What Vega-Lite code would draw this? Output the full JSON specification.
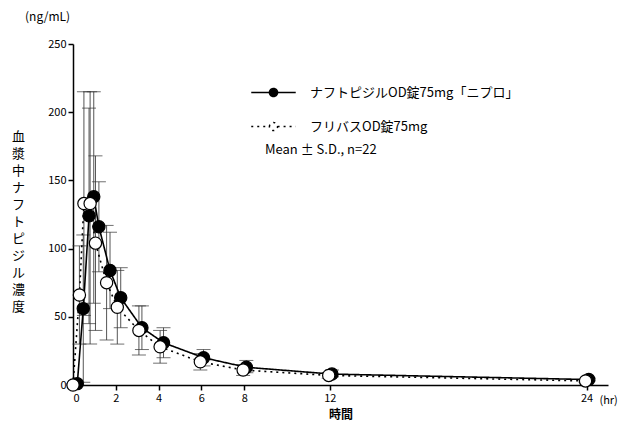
{
  "$schema": "https://vega.github.io/schema/vega-lite/v6.json",
  "width": 535,
  "height": 341,
  "autosize": {"type": "none"},
  "padding": {"left": 73, "top": 44, "right": 15, "bottom": 50},
  "title": {"text": "(ng/mL)", "anchor": "start", "frame": "group", "offset": 14, "dx": -48, "fontSize": 12, "fontWeight": "normal", "font": "Noto Sans CJK JP"},
  "datasets": {
    "pk": [
      {"s": "ナフトピジルOD錠75mg「ニプロ」", "t": 0.2, "v": 1, "lo": 0, "hi": 2},
      {"s": "ナフトピジルOD錠75mg「ニプロ」", "t": 0.48, "v": 56, "lo": 2, "hi": 110},
      {"s": "ナフトピジルOD錠75mg「ニプロ」", "t": 0.75, "v": 124, "lo": 45, "hi": 203},
      {"s": "ナフトピジルOD錠75mg「ニプロ」", "t": 0.97, "v": 138, "lo": 60, "hi": 215},
      {"s": "ナフトピジルOD錠75mg「ニプロ」", "t": 1.21, "v": 116, "lo": 83, "hi": 149},
      {"s": "ナフトピジルOD錠75mg「ニプロ」", "t": 1.73, "v": 84, "lo": 56, "hi": 112},
      {"s": "ナフトピジルOD錠75mg「ニプロ」", "t": 2.23, "v": 64, "lo": 42, "hi": 86},
      {"s": "ナフトピジルOD錠75mg「ニプロ」", "t": 3.22, "v": 42, "lo": 26, "hi": 58},
      {"s": "ナフトピジルOD錠75mg「ニプロ」", "t": 4.23, "v": 31, "lo": 20, "hi": 42},
      {"s": "ナフトピジルOD錠75mg「ニプロ」", "t": 6.1, "v": 20, "lo": 14, "hi": 26},
      {"s": "ナフトピジルOD錠75mg「ニプロ」", "t": 8.1, "v": 13, "lo": 9, "hi": 18},
      {"s": "ナフトピジルOD錠75mg「ニプロ」", "t": 12.1, "v": 8, "lo": 6, "hi": 11},
      {"s": "ナフトピジルOD錠75mg「ニプロ」", "t": 24.1, "v": 4, "lo": 3, "hi": 5},
      {"s": "フリバスOD錠75mg", "t": 0, "v": 0, "lo": 0, "hi": 1},
      {"s": "フリバスOD錠75mg", "t": 0.3, "v": 66, "lo": 30, "hi": 102},
      {"s": "フリバスOD錠75mg", "t": 0.51, "v": 133, "lo": 51, "hi": 215},
      {"s": "フリバスOD錠75mg", "t": 0.8, "v": 133, "lo": 30, "hi": 215},
      {"s": "フリバスOD錠75mg", "t": 1.05, "v": 104, "lo": 40, "hi": 168},
      {"s": "フリバスOD錠75mg", "t": 1.57, "v": 75, "lo": 33, "hi": 117},
      {"s": "フリバスOD錠75mg", "t": 2.07, "v": 57, "lo": 30, "hi": 84},
      {"s": "フリバスOD錠75mg", "t": 3.08, "v": 40, "lo": 22, "hi": 58},
      {"s": "フリバスOD錠75mg", "t": 4.07, "v": 28, "lo": 16, "hi": 40},
      {"s": "フリバスOD錠75mg", "t": 5.95, "v": 17, "lo": 11, "hi": 23},
      {"s": "フリバスOD錠75mg", "t": 7.95, "v": 11, "lo": 7, "hi": 15},
      {"s": "フリバスOD錠75mg", "t": 11.95, "v": 7, "lo": 5, "hi": 9},
      {"s": "フリバスOD錠75mg", "t": 23.95, "v": 3, "lo": 2, "hi": 4}
    ],
    "unit": [{"t": 24.6, "v": -12, "label": "(hr)"}]
  },
  "encoding": {
    "x": {"field": "t", "type": "quantitative", "scale": {"domain": [0, 25], "nice": false},
      "axis": {"values": [0, 2, 4, 6, 8, 12, 24], "title": "時間", "grid": false, "titleFontWeight": "bold", "titleFontSize": 12, "labelFontSize": 11, "titlePadding": 6}},
    "y": {"field": "v", "type": "quantitative", "scale": {"domain": [0, 250], "nice": false},
      "axis": {"values": [0, 50, 100, 150, 200, 250], "grid": false, "labelFontSize": 11,
        "title": ["血", "漿", "中", "ナ", "フ", "ト", "ピ", "ジ", "ル", "濃", "度"], "titleAngle": 0, "titleAlign": "center", "titleBaseline": "middle", "titleY": 92, "titleX": -55, "titleFontSize": 13, "titleFontWeight": "normal", "titleLineHeight": 17}}
  },
  "layer": [
    {
      "data": {"name": "pk"},
      "mark": {"type": "rule", "color": "#555", "strokeWidth": 1},
      "encoding": {"y": {"field": "lo", "type": "quantitative"}, "y2": {"field": "hi"}, "detail": {"field": "s"}}
    },
    {
      "data": {"name": "pk"},
      "mark": {"type": "tick", "color": "#333", "orient": "horizontal", "size": 14, "thickness": 1},
      "encoding": {"y": {"field": "lo", "type": "quantitative"}}
    },
    {
      "data": {"name": "pk"},
      "mark": {"type": "tick", "color": "#333", "orient": "horizontal", "size": 14, "thickness": 1},
      "encoding": {"y": {"field": "hi", "type": "quantitative"}}
    },
    {
      "data": {"name": "pk"},
      "mark": {"type": "line", "color": "black", "strokeWidth": 1.6},
      "encoding": {
        "strokeDash": {"field": "s", "type": "nominal", "scale": {"domain": ["ナフトピジルOD錠75mg「ニプロ」", "フリバスOD錠75mg"], "range": [[1, 0], [2, 4]]},
          "legend": {"title": "Mean ± S.D., n=22"}}
      }
    },
    {
      "data": {"name": "pk"},
      "mark": {"type": "point", "filled": true, "size": 150, "stroke": "black", "strokeWidth": 1.2, "opacity": 1},
      "encoding": {
        "fill": {"field": "s", "type": "nominal", "scale": {"domain": ["ナフトピジルOD錠75mg「ニプロ」", "フリバスOD錠75mg"], "range": ["black", "white"]},
          "legend": {"title": "Mean ± S.D., n=22"}}
      }
    },
    {
      "data": {"name": "unit"},
      "mark": {"type": "text", "fontSize": 11, "align": "left"},
      "encoding": {"text": {"field": "label"}}
    }
  ],
  "config": {
    "font": "Noto Sans CJK JP",
    "view": {"stroke": null},
    "axis": {"domainColor": "black", "tickColor": "black", "labelColor": "black", "titleColor": "black", "domainWidth": 1.5, "tickWidth": 1.5},
    "legend": {"titleOrient": "bottom", "titleFontWeight": "normal", "titleFontSize": 13, "titlePadding": 10, "titleAlign": "left", "titleColor": "black", "labelColor": "black", "labelFontSize": 13, "labelLimit": 0, "labelOffset": 28, "labelFont": "Noto Sans CJK JP",
      "symbolType": "M-3,0L-0.55,0M0.55,0L3,0M-0.55,0A0.55,0.55 0 1,1 0.55,0A0.55,0.55 0 1,1 -0.55,0",
      "symbolSize": 220, "symbolStrokeColor": "black", "symbolStrokeWidth": 1.5, "rowPadding": 18, "orient": "none", "legendX": 192, "legendY": 40}
  }
}
